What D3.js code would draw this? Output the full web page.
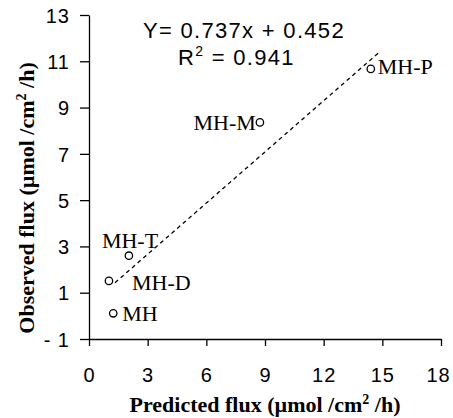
<!DOCTYPE html>
<html>
<head>
<meta charset="utf-8">
<script src="https://cdn.jsdelivr.net/npm/d3@7"></script>
<style>
  body { margin: 0; background: #fff; }
  .tick text { font-family: Arial, "Liberation Sans", sans-serif; font-size: 20px; letter-spacing: 1px; fill: #000; }
  .axis path, .axis line { stroke: #000; stroke-width: 1.3; }
</style>
</head>
<body>
<div id="chart"></div>
<script>
// data
let names = ["MH", "MH-D", "MH-T", "MH-M", "MH-P"];
let predicted = [1.24, 1.02, 2.04, 8.74, 14.41];
let observed = [0.11, 1.51, 2.6, 8.36, 10.67];
let xTicks = [0, 3, 6, 9, 12, 15, 18];
let yTicks = [-1, 1, 3, 5, 7, 9, 11, 13];
let slope = 0.737, intercept = 0.452;
let fitRange = [1.33, 14.87];

let width = 453, height = 418;
let margin = {top: 15, right: 12, bottom: 79, left: 89};

let svg = d3.select("#chart").append("svg")
    .attr("width", width)
    .attr("height", height);

let x = d3.scaleLinear().domain([0, 18]).range([margin.left, width - margin.right]);
let y = d3.scaleLinear().domain([-1, 13]).range([height - margin.bottom, margin.top]);

// axes
svg.append("g")
    .attr("class", "axis")
    .attr("transform", `translate(0,${y(-1)})`)
    .call(d3.axisBottom(x).tickValues(xTicks).tickSize(7).tickPadding(22).tickSizeOuter(0))
    .call(g => g.selectAll(".tick text").filter(d => d === 18).attr("dx", "-0.15em"));

svg.append("g")
    .attr("class", "axis")
    .attr("transform", `translate(${x(0)},0)`)
    .call(d3.axisLeft(y).tickValues(yTicks).tickSize(9).tickPadding(10).tickSizeOuter(0)
        .tickFormat(d => d < 0 ? "- " + Math.abs(d) : d))
    .call(g => g.selectAll(".tick text").attr("dy", "0.36em"));

// fitted line
svg.append("line")
    .attr("x1", x(fitRange[0]))
    .attr("y1", y(slope * fitRange[0] + intercept))
    .attr("x2", x(fitRange[1]))
    .attr("y2", y(slope * fitRange[1] + intercept))
    .attr("stroke", "#000")
    .attr("stroke-width", 1.3)
    .attr("stroke-dasharray", "4,3.5");

// points
let pts = names.map((n, i) => ({name: n, px: predicted[i], ob: observed[i]}));
svg.selectAll(".pt")
    .data(pts)
    .enter()
    .append("circle")
    .attr("class", "pt")
    .attr("cx", d => x(d.px))
    .attr("cy", d => y(d.ob))
    .attr("r", 3.7)
    .attr("fill", "#fff")
    .attr("stroke", "#000")
    .attr("stroke-width", 1.3);

// point labels (offset from the point)
let labelOffset = {
    "MH": [9, 8, "start"],
    "MH-D": [23, 9, "start"],
    "MH-T": [-27, -7.5, "start"],
    "MH-M": [-4, 8, "end"],
    "MH-P": [7, 5.5, "start"]
};
svg.selectAll(".lbl")
    .data(pts)
    .enter()
    .append("text")
    .attr("class", "lbl")
    .attr("x", d => x(d.px) + labelOffset[d.name][0])
    .attr("y", d => y(d.ob) + labelOffset[d.name][1])
    .attr("text-anchor", d => labelOffset[d.name][2])
    .style("font-family", "'Liberation Serif', 'Times New Roman', serif")
    .style("font-size", "22px")
    .text(d => d.name);

// equation
let eq = svg.append("g")
    .style("font-family", "Arial, 'Liberation Sans', sans-serif")
    .style("font-size", "22px")
    .style("letter-spacing", "1.3px");
eq.append("text")
    .attr("x", 143).attr("y", 38)
    .text("Y= " + slope + "x + " + intercept);
let r2 = eq.append("text").attr("x", 178).attr("y", 65);
r2.append("tspan").text("R");
r2.append("tspan").attr("dy", -9).style("font-size", "14px").text("2");
r2.append("tspan").attr("dy", 9).text(" = 0.941");

// axis titles
let titleFont = "'Liberation Serif', 'Times New Roman', serif";
let xt = svg.append("text")
    .attr("x", 265).attr("y", 412)
    .attr("text-anchor", "middle")
    .style("font-family", titleFont)
    .style("font-size", "22px")
    .style("font-weight", "bold")
    .text("Predicted flux (µmol /cm");
xt.append("tspan").attr("dy", -8).style("font-size", "14px").text("2");
xt.append("tspan").attr("dy", 8).text(" /h)");

let yt = svg.append("text")
    .attr("transform", "translate(34,198) rotate(-90)")
    .attr("text-anchor", "middle")
    .style("font-family", titleFont)
    .style("font-size", "22px")
    .style("font-weight", "bold")
    .text("Observed flux (µmol /cm");
yt.append("tspan").attr("dy", -8).style("font-size", "14px").text("2");
yt.append("tspan").attr("dy", 8).text(" /h)");
</script>
</body>
</html>
